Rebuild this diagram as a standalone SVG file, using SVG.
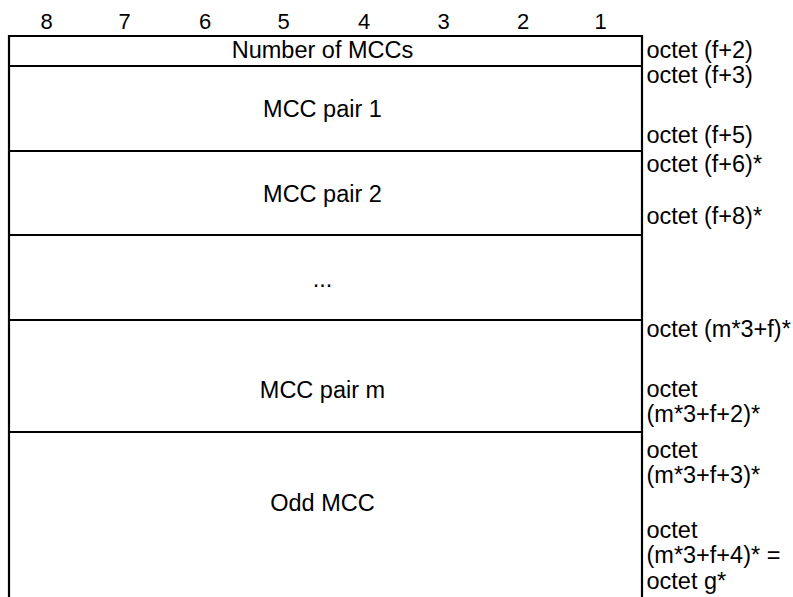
<svg xmlns="http://www.w3.org/2000/svg" width="793" height="597" viewBox="0 0 793 597">
<style>
text{font-family:"Liberation Sans",Arial,sans-serif;font-size:23.5px;fill:#000}
.c{text-anchor:middle}
.h{font-size:22px;text-anchor:middle}
.ln{stroke:#000;stroke-width:2.2;fill:none}
</style>
<rect width="793" height="597" fill="#fff"/>
<g id="header">
<text class="h" x="46.7" y="29">8</text>
<text class="h" x="124.5" y="29">7</text>
<text class="h" x="205" y="29">6</text>
<text class="h" x="283.5" y="29">5</text>
<text class="h" x="364" y="29">4</text>
<text class="h" x="443.5" y="29">3</text>
<text class="h" x="523" y="29">2</text>
<text class="h" x="600.5" y="29">1</text>
</g>
<g id="grid">
<path class="ln" d="M9,597V36H642V597M9,66H642M9,151H642M9,235H642M9,320H642M9,432H642"/>
</g>
<g id="row-number">
<text class="c" x="322.5" y="58">Number of MCCs</text>
<text x="646.5" y="58">octet (f+2)</text>
</g>
<g id="row-pair1">
<text class="c" x="322.5" y="117">MCC pair 1</text>
<text x="646.5" y="83">octet (f+3)</text>
<text x="646.5" y="143">octet (f+5)</text>
</g>
<g id="row-pair2">
<text class="c" x="322.5" y="202">MCC pair 2</text>
<text x="646.5" y="172">octet (f+6)*</text>
<text x="646.5" y="224">octet (f+8)*</text>
</g>
<g id="row-dots">
<text class="c" x="322.5" y="287">...</text>
</g>
<g id="row-pairm">
<text class="c" x="322.5" y="398">MCC pair m</text>
<text x="646.5" y="337">octet (m*3+f)*</text>
<text x="646.5" y="397">octet</text>
<text x="646.5" y="422">(m*3+f+2)*</text>
</g>
<g id="row-odd">
<text class="c" x="322.5" y="511">Odd MCC</text>
<text x="646.5" y="458">octet</text>
<text x="646.5" y="483">(m*3+f+3)*</text>
<text x="646.5" y="538">octet</text>
<text x="646.5" y="563">(m*3+f+4)* =</text>
<text x="646.5" y="589">octet g*</text>
</g>
</svg>
